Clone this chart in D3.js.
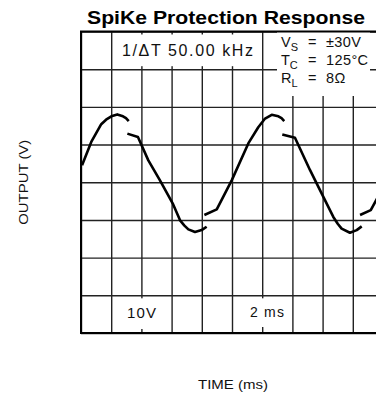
<!DOCTYPE html>
<html>
<head>
<meta charset="utf-8">
<script src="https://cdn.jsdelivr.net/npm/d3@7/dist/d3.min.js"></script>
<style>
  html, body { margin: 0; padding: 0; background: #fff; overflow: hidden; }
  svg { display: block; }
  text { font-family: "Liberation Sans", Arial, sans-serif; fill: #111; }
</style>
</head>
<body>
<svg id="chart" width="376" height="398"></svg>
<script>
// Graticule divisions: 2 ms/div horizontally, 10 V/div vertically
const timeTicks = [0, 2, 4, 6, 8, 10, 12, 14, 16, 18, 20];
const voltTicks = [-40, -30, -20, -10, 0, 10, 20, 30, 40];

// Captured output trace (time in ms, output in V), one array per unbroken stroke
const traceRise1 = [[0.07, 4.5], [0.68, 10.7], [1.34, 15.4], [1.66, 16.6], [2.01, 17.5], [2.40, 18.0], [2.78, 17.5], [2.98, 17.0], [3.16, 16.2]];
const traceFall1 = [[3.07, 12.9], [3.77, 12.0], [4.46, 5.8], [5.23, 0.5], [6.07, -5.6], [6.56, -10.1], [6.85, -11.5], [7.11, -12.5], [7.55, -13.2], [7.99, -12.7], [8.32, -11.8]];
const traceRise2 = [[8.17, -8.7], [8.99, -7.2], [9.98, 0.5], [11.08, 10.3], [11.74, 14.6], [12.19, 16.9], [12.63, 17.9], [13.07, 17.5], [13.28, 17.0], [13.46, 16.2]];
const traceFall2 = [[13.33, 12.7], [14.17, 11.8], [15.17, 3.2], [16.05, -3.9], [16.71, -9.2], [17.00, -11.0], [17.26, -12.3], [17.81, -13.4], [18.26, -12.7], [18.59, -11.7]];
const traceRise3 = [[18.48, -8.7], [19.19, -7.4], [19.54, -4.8], [20.0, -1.3]];
const traceSegments = [traceRise1, traceFall1, traceRise2, traceFall2, traceRise3];

// Test conditions shown in the readout
const conditionSymbols = ["V", "T", "R"];
const conditionSubscripts = ["S", "C", "L"];
const conditionValues = ["\u00B130V", "125\u00B0C", "8\u03A9"];

const svg = d3.select("#chart");

const x = d3.scaleLinear().domain([0, 20]).range([81, 383]);
const y = d3.scaleLinear().domain([-40, 40]).range([333, 31.5]);

// Title
svg.append("text")
  .attr("x", 226).attr("y", 24)
  .attr("text-anchor", "middle")
  .attr("font-size", 18).attr("font-weight", "bold")
  .attr("textLength", 278).attr("lengthAdjust", "spacingAndGlyphs")
  .style("fill", "#000")
  .text("SpiKe Protection Response");

// Grid lines built from the axis generators
const gridX = svg.append("g")
  .attr("transform", `translate(0,${y(-40)})`)
  .call(d3.axisBottom(x).tickValues(timeTicks).tickSize(-(y(-40) - y(40))).tickFormat(""));
const gridY = svg.append("g")
  .attr("transform", `translate(${x(0)},0)`)
  .call(d3.axisLeft(y).tickValues(voltTicks).tickSize(-(x(20) - x(0))).tickFormat(""));
[gridX, gridY].forEach(g => {
  g.select(".domain").remove();
  g.selectAll(".tick line").attr("stroke", "#222").attr("stroke-width", 1.4);
});

// White panels behind the on-screen readouts
const panels = [
  { x0: x(2) + 2, x1: x(12) - 2, y0: y(40) + 3, y1: y(30) - 3 },
  { x0: 277, x1: 370, y0: y(40), y1: 96 },
  { x0: x(4) - 16, x1: x(4) + 17, y0: y(-30) + 3, y1: y(-40) - 4 },
  { x0: x(12) - 14, x1: x(12) + 24, y0: y(-30) + 3, y1: y(-40) - 6 }
];
svg.append("g").selectAll("rect").data(panels).join("rect")
  .attr("x", d => d.x0).attr("y", d => d.y0)
  .attr("width", d => d.x1 - d.x0).attr("height", d => d.y1 - d.y0)
  .attr("fill", "#fff");

// Outer frame
svg.append("rect")
  .attr("x", x(0)).attr("y", y(40))
  .attr("width", x(20) - x(0)).attr("height", y(-40) - y(40))
  .attr("fill", "none").attr("stroke", "#000").attr("stroke-width", 2);

// Readouts
svg.append("text")
  .attr("x", 122).attr("y", 56)
  .attr("font-size", 16)
  .attr("textLength", 131).attr("lengthAdjust", "spacing")
  .text("1/\u0394T 50.00 kHz");

const condRows = svg.append("g").attr("font-size", 14.5);
conditionSymbols.forEach((sym, i) => {
  const yBase = 47 + i * 18;
  const t = condRows.append("text").attr("y", yBase);
  t.append("tspan").attr("x", 281).text(sym);
  t.append("tspan").attr("font-size", 11).attr("dy", 4).text(conditionSubscripts[i]);
  t.append("tspan").attr("x", 308).attr("dy", -4).text("=");
  t.append("tspan").attr("x", 326).attr("letter-spacing", 0.4).text(conditionValues[i]);
});

svg.append("text")
  .attr("x", x(4)).attr("y", 318)
  .attr("text-anchor", "middle").attr("font-size", 15)
  .attr("textLength", 29).attr("lengthAdjust", "spacing")
  .text("10V");
svg.append("text")
  .attr("x", 267).attr("y", 317)
  .attr("text-anchor", "middle").attr("font-size", 14)
  .attr("textLength", 34).attr("lengthAdjust", "spacing")
  .text("2 ms");

// Trace
const line = d3.line()
  .x(d => x(d[0]))
  .y(d => y(d[1]))
  .curve(d3.curveLinear);
svg.append("g").selectAll("path").data(traceSegments).join("path")
  .attr("d", line)
  .attr("fill", "none")
  .attr("stroke", "#000")
  .attr("stroke-width", 2.6)
  .attr("stroke-linecap", "butt")
  .attr("stroke-linejoin", "round");

// Axis titles
svg.append("text")
  .attr("transform", `translate(28,${(y(40) + y(-40)) / 2}) rotate(-90)`)
  .attr("text-anchor", "middle").attr("font-size", 13)
  .attr("textLength", 85).attr("lengthAdjust", "spacingAndGlyphs")
  .text("OUTPUT (V)");
svg.append("text")
  .attr("x", 233).attr("y", 389)
  .attr("text-anchor", "middle").attr("font-size", 13)
  .attr("textLength", 70).attr("lengthAdjust", "spacingAndGlyphs")
  .text("TIME (ms)");
</script>
</body>
</html>
